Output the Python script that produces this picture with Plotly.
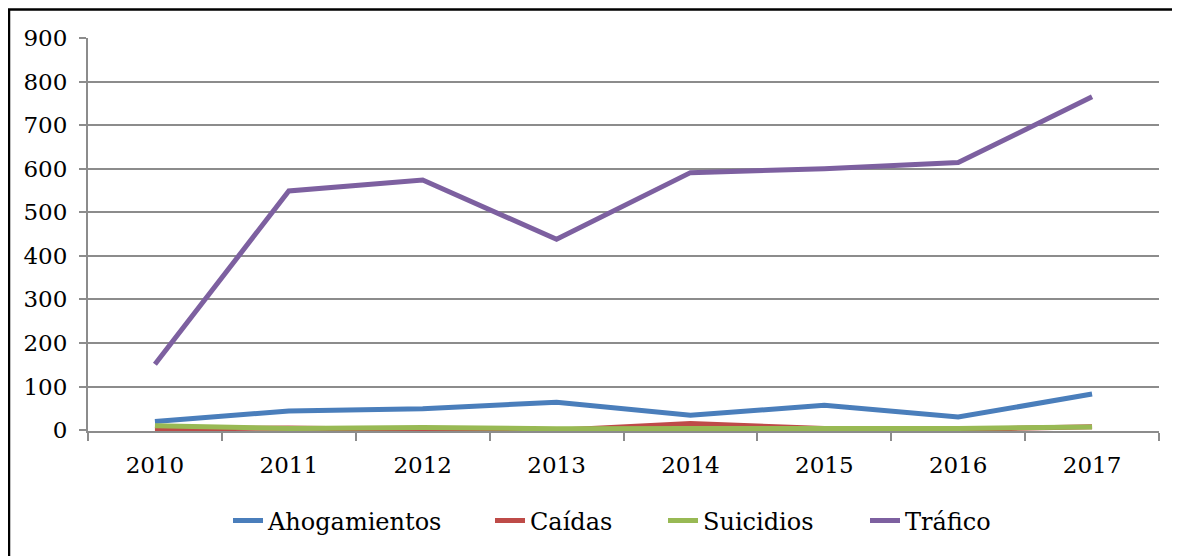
import plotly.graph_objects as go

years = ["2010", "2011", "2012", "2013", "2014", "2015", "2016", "2017"]
ahogamientos = [20, 44, 49, 64, 34, 57, 30, 83]
caidas = [2, 5, 1, 0, 15, 4, 1, 8]
suicidios = [10, 4, 6, 3, 4, 4, 4, 7]
trafico = [151, 549, 574, 438, 591, 600, 614, 765]

names = ["Ahogamientos", "Caídas", "Suicidios", "Tráfico"]
colors = ["#4a7ebb", "#be4b48", "#98b954", "#7d60a0"]
values = [ahogamientos, caidas, suicidios, trafico]

# page body has an 8px margin: work in reference pixels and subtract it
OFF = 8
W, H = 1180 - OFF, 556 - OFF
L = 88 - OFF
T = 37.5 - OFF
R = W - (1159 - OFF)
B = H - (431 - OFF)
pw, ph = W - L - R, H - T - B

def px_x(px):
    return (px - OFF - L) / pw

def px_y(py):
    return 1 - (py - OFF - T) / ph

legend_keys = ["legend", "legend2", "legend3", "legend4"]
text_starts = [270, 532, 705, 907]

grid = "#8c8c8c"
font = "DejaVu Serif"

fig = go.Figure()
for name, vals, col, lk in zip(names, values, colors, legend_keys):
    fig.add_trace(go.Scatter(
        x=years, y=vals, name=name, mode="lines",
        line=dict(color=col, width=5), legend=lk,
    ))

legend_layout = {}
for lk, ts in zip(legend_keys, text_starts):
    legend_layout[lk] = dict(
        orientation="h", xref="container", yref="container",
        x=(ts - OFF - 42) / W, xanchor="left",
        y=1 - (521 - OFF) / H, yanchor="middle",
        font=dict(family=font, size=24, color="black"),
        bgcolor="rgba(0,0,0,0)", borderwidth=0,
    )

fig.update_layout(
    width=W, height=H,
    margin=dict(l=L, r=R, t=T, b=B),
    paper_bgcolor="white", plot_bgcolor="white",
    font=dict(family=font, size=23, color="black"),
    showlegend=True,
    xaxis=dict(
        type="category", range=[-0.5, 7.5], tickson="boundaries",
        showgrid=False, showline=True, linecolor=grid, linewidth=2,
        ticks="outside", ticklen=8, tickcolor=grid, tickwidth=2,
        ticklabelstandoff=12, zeroline=False,
        tickfont=dict(family=font, size=23, color="black"),
    ),
    yaxis=dict(
        range=[-2, 900], tickvals=list(range(0, 901, 100)),
        showgrid=True, gridcolor=grid, gridwidth=1.5,
        showline=True, linecolor=grid, linewidth=2,
        ticks="outside", ticklen=7, tickcolor=grid, tickwidth=1.5,
        ticklabelstandoff=7, zeroline=False,
        tickfont=dict(family=font, size=23, color="black"),
    ),
    shapes=[dict(
        type="rect", xref="paper", yref="paper",
        x0=px_x(9), x1=px_x(1178),
        y0=px_y(620), y1=px_y(9),
        line=dict(color="black", width=2.5), fillcolor="rgba(0,0,0,0)",
        layer="below",
    )],
    **legend_layout,
)

fig.write_html("out.html")
